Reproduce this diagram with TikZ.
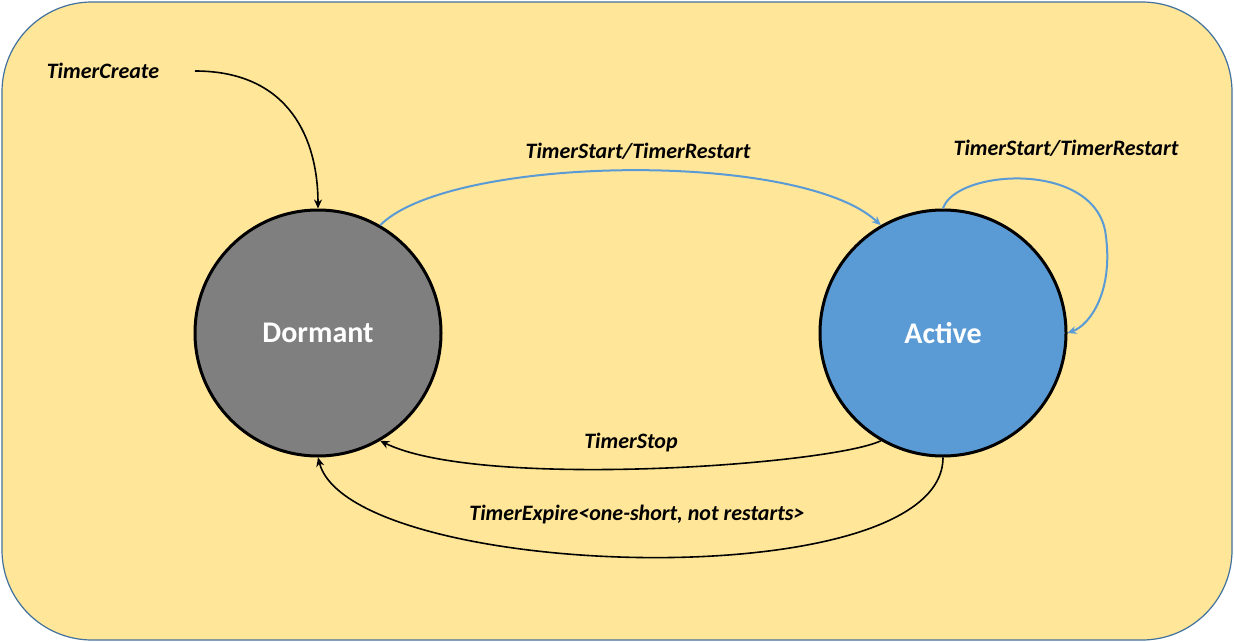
\documentclass[tikz,border=0pt]{standalone}
\usepackage{fontspec}
\setmainfont{Carlito}
\usetikzlibrary{arrows.meta}
\definecolor{bgc}{HTML}{FFE699}
\definecolor{bdc}{HTML}{41719C}
\definecolor{actc}{HTML}{5B9BD5}
\definecolor{dorc}{HTML}{7F7F7F}
\begin{document}
\begin{tikzpicture}[x=1pt,y=-1pt,
  state/.style={circle,draw=black,line width=3pt,minimum size=246pt,inner sep=0pt,text=white,font=\fontsize{30}{34}\selectfont\bfseries},
  lbl/.style={font=\fontsize{22}{26}\selectfont\bfseries\itshape},
  blk/.style={draw=black,line width=1.6pt,-{Stealth[length=9pt,width=8pt]}},
  blu/.style={draw=actc,line width=2pt,-{Stealth[length=9pt,width=8pt]}}]
\useasboundingbox (0,0) rectangle (1234,642);
\draw[fill=bgc,draw=bdc,line width=1.2pt,rounded corners=90pt] (2,2) rectangle (1232,640);
\node[state,fill=dorc] (d) at (318,333) {Dormant};
\node[state,fill=actc] (a) at (943,333) {Active};
\node[lbl] (tc) at (103,71) {TimerCreate};
\node[lbl] (ts) at (638,151) {TimerStart/TimerRestart};
\node[lbl] (tsr) at (1066,148) {TimerStart/TimerRestart};
\node[lbl] (tst) at (631,443) {TimerStop};
\node[lbl] (te) at (637,515) {TimerExpire<one-short, not restarts>};
\coordinate (c0) at (195,71);
\draw[blk] (c0) .. controls (290,71) and (318,140) .. (d.north);
\draw[blu] (d.60) .. controls (450,155) and (800,150) .. (a.120);
\draw[blu] (a.north) .. controls (955,170) and (1090,160) .. (1105,230) .. controls (1115,290) and (1090,325) .. (a.east);
\draw[blk] (a.-120) .. controls (830,465) and (480,490) .. (d.-60);
\draw[blk] (a.south) .. controls (943,600) and (350,580) .. (d.south);
\end{tikzpicture}
\end{document}
